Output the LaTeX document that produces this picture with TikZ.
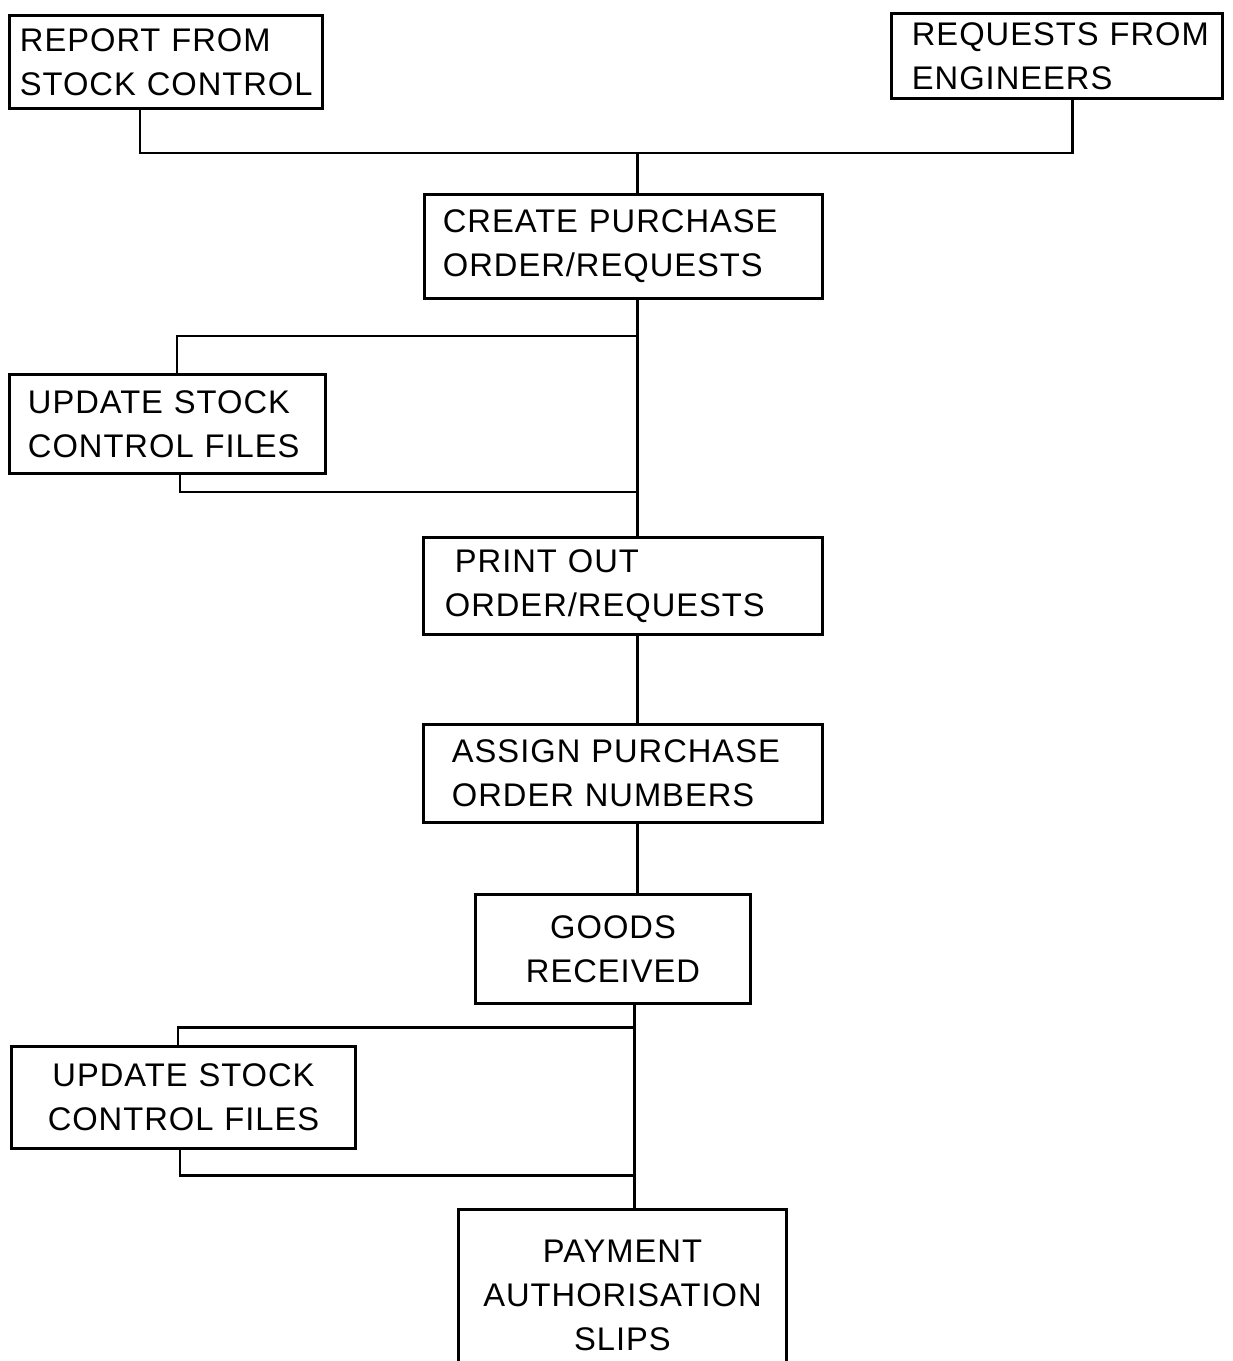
\documentclass[tikz,border=0pt]{standalone}
\usepackage{fontspec}
\setmainfont{Liberation Sans}[LetterSpace=3]
\usetikzlibrary{calc}
\begin{document}
\begin{tikzpicture}[x=0.01cm,y=-0.01cm,font=\fontsize{9.3}{12.5}\selectfont,line width=0.85pt,
  box/.style={draw,align=left,inner ysep=0pt}]
\clip (0,0) rectangle (1232,1361);
\node[box,inner xsep=.1cm,text width=2.92cm,minimum height=.93cm] (rsc) at (166,62){REPORT FROM\\STOCK CONTROL};
\node[box,inner xsep=.12cm,text width=3.06cm,minimum height=.84cm] (reng) at (1057,56){\hspace*{.08cm}REQUESTS FROM\\\hspace*{.08cm}ENGINEERS};
\node[box,inner xsep=.18cm,text width=3.61cm,minimum height=1.03cm] (cpo) at (623.5,246.5){CREATE PURCHASE\\ORDER/REQUESTS};
\node[box,inner xsep=.18cm,text width=2.79cm,minimum height=.98cm] (usc1) at (167.5,424){UPDATE STOCK\\CONTROL FILES};
\node[box,inner xsep=.21cm,text width=3.56cm,minimum height=.96cm] (poo) at (623,586){\hspace*{.1cm}PRINT OUT\\ORDER/REQUESTS};
\node[box,inner xsep=.28cm,text width=3.42cm,minimum height=.97cm] (apo) at (623,773.5){ASSIGN PURCHASE\\ORDER NUMBERS};
\node[box,align=center,inner xsep=.1cm,text width=2.54cm,minimum height=1.08cm] (gr) at (613,949){GOODS\\RECEIVED};
\node[box,align=center,inner xsep=.1cm,text width=3.23cm,minimum height=1.01cm] (usc2) at (183.5,1097.5){UPDATE STOCK\\CONTROL FILES};
\node[box,align=center,inner xsep=.1cm,text width=3.07cm,minimum height=1.7cm] (pas) at (622.5,1295){PAYMENT\\AUTHORISATION\\SLIPS};
\coordinate (sA) at (637,0);
\coordinate (sB) at (634,0);
\coordinate (j1) at (637,153);
\coordinate (b1) at (637,336);
\coordinate (b2) at (637,492);
\coordinate (b3) at (634,1027);
\coordinate (b4) at (634,1175);
\draw ($(rsc.south)+(-26,0)$) |- (j1) -| ($(reng.south)+(15,0)$);
\draw (j1) -- (sA |- cpo.north);
\foreach \a/\b in {cpo/poo,poo/apo,apo/gr}{\draw (sA |- \a.south) -- (sA |- \b.north);}
\draw (sB |- gr.south) -- (sB |- pas.north);
\draw (b1) -| ($(usc1.north)+(9.5,0)$);
\draw ($(usc1.south)+(12.5,0)$) |- (b2);
\draw (b3) -| ($(usc2.north)+(-5.5,0)$);
\draw ($(usc2.south)+(-3.5,0)$) |- (b4);
\end{tikzpicture}
\end{document}
